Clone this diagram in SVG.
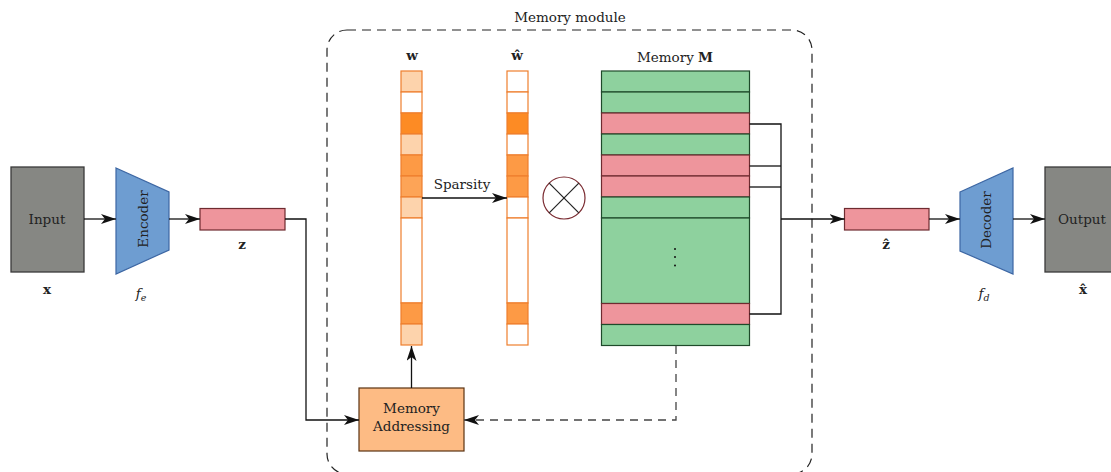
<svg xmlns="http://www.w3.org/2000/svg" width="1111" height="472" viewBox="0 0 1111 472">
<style>
text{font-family:"DejaVu Serif","Liberation Serif",serif;fill:#222;}
.lbl{font-size:13.5px;text-anchor:middle;}
.b{font-weight:bold;}
.it{font-style:italic;}
.gray{fill:#868783;stroke:#3a3a3a;stroke-width:1.3;}
.blue{fill:#6E9DD1;stroke:#3C66A3;stroke-width:1.2;}
.pink{fill:#EE959C;stroke:#6E2B30;stroke-width:1.2;}
.green{fill:#8ED19E;stroke:#1E4A2A;stroke-width:1.2;}
.cell{stroke:#EE7F2D;stroke-width:1.2;}
.wh{fill:#ffffff;}
.lt{fill:#FDD3AC;}
.dk{fill:#FD8B24;}
.md{fill:#FD9A45;}
.ml{fill:#FDA457;}
.conn{fill:none;stroke:#111;stroke-width:1.3;}
.dash{fill:none;stroke:#444;stroke-width:1.3;stroke-dasharray:8,6;}
</style>
<defs>
<marker id="ah" markerUnits="userSpaceOnUse" markerWidth="16" markerHeight="12" refX="15" refY="5" orient="auto">
<path d="M0,0 L15,5 L0,10 L4,5 z" fill="#111"/>
</marker>
</defs>

<!-- memory module frame -->
<g id="memory-module">
<rect x="327" y="30" width="485" height="444" rx="20" ry="20" fill="none" stroke="#222" stroke-width="1.2" stroke-dasharray="9,6"/>
<text class="lbl" x="570" y="22">Memory module</text>
</g>

<g id="input">
<rect class="gray" x="11" y="167" width="73" height="105"/>
<text class="lbl" x="47" y="224">Input</text>
<text class="lbl b" x="47" y="294">x</text>
</g>

<g id="encoder">
<polygon class="blue" points="116,168 169,192 169,250 116,274"/>
<text class="lbl" transform="translate(148,219) rotate(-90)">Encoder</text>
<text class="lbl it" x="141" y="298">f<tspan font-size="9.5" dy="3">e</tspan></text>
</g>

<g id="z">
<rect class="pink" x="200" y="208.5" width="85" height="21.5"/>
<text class="lbl b" x="242" y="249">z</text>
</g>

<g id="w">
<text class="lbl b" x="412" y="60">w</text>
<rect class="cell lt" x="401" y="71" width="21" height="21"/>
<rect class="cell wh" x="401" y="92" width="21" height="21"/>
<rect class="cell dk" x="401" y="113" width="21" height="21"/>
<rect class="cell lt" x="401" y="134" width="21" height="21"/>
<rect class="cell md" x="401" y="155" width="21" height="21"/>
<rect class="cell ml" x="401" y="176" width="21" height="21"/>
<rect class="cell lt" x="401" y="197" width="21" height="21"/>
<rect class="cell wh" x="401" y="218" width="21" height="85"/>
<rect class="cell md" x="401" y="303" width="21" height="21"/>
<rect class="cell lt" x="401" y="324" width="21" height="21"/>
</g>

<g id="w-hat">
<text class="lbl b" x="517" y="60">ŵ</text>
<rect class="cell wh" x="507" y="71" width="21" height="21"/>
<rect class="cell wh" x="507" y="92" width="21" height="21"/>
<rect class="cell dk" x="507" y="113" width="21" height="21"/>
<rect class="cell wh" x="507" y="134" width="21" height="21"/>
<rect class="cell md" x="507" y="155" width="21" height="21"/>
<rect class="cell md" x="507" y="176" width="21" height="21"/>
<rect class="cell wh" x="507" y="197" width="21" height="21"/>
<rect class="cell wh" x="507" y="218" width="21" height="85"/>
<rect class="cell md" x="507" y="303" width="21" height="21"/>
<rect class="cell wh" x="507" y="324" width="21" height="21"/>
</g>

<g id="product">
<circle cx="564" cy="198" r="21" fill="#fff" stroke="#7A2A30" stroke-width="1.2"/>
<line x1="549.2" y1="183.2" x2="578.8" y2="212.8" stroke="#222" stroke-width="1.2"/>
<line x1="578.8" y1="183.2" x2="549.2" y2="212.8" stroke="#222" stroke-width="1.2"/>
</g>

<g id="memory">
<text class="lbl" x="675" y="62">Memory <tspan class="b">M</tspan></text>
<rect class="green" x="601.5" y="71" width="148" height="21"/>
<rect class="green" x="601.5" y="92" width="148" height="21"/>
<rect class="pink" x="601.5" y="113" width="148" height="21"/>
<rect class="green" x="601.5" y="134" width="148" height="21"/>
<rect class="pink" x="601.5" y="155" width="148" height="21"/>
<rect class="pink" x="601.5" y="176" width="148" height="21"/>
<rect class="green" x="601.5" y="197" width="148" height="21"/>
<rect class="green" x="601.5" y="218" width="148" height="85.5"/>
<rect class="pink" x="601.5" y="303.5" width="148" height="21"/>
<rect class="green" x="601.5" y="324.5" width="148" height="21"/>
<circle cx="675" cy="249" r="1" fill="#111"/>
<circle cx="675" cy="257" r="1" fill="#111"/>
<circle cx="675" cy="265.5" r="1" fill="#111"/>
</g>

<g id="memory-addressing">
<rect x="359" y="388" width="105" height="63" fill="#FDBB84" stroke="#5A3212" stroke-width="1.2"/>
<text class="lbl" x="411.5" y="413">Memory</text>
<text class="lbl" x="411.5" y="431">Addressing</text>
</g>

<g id="z-hat">
<rect class="pink" x="844.5" y="208.5" width="84.5" height="21.5"/>
<text class="lbl b" x="886" y="249">ẑ</text>
</g>

<g id="decoder">
<polygon class="blue" points="960,192 1013,168 1013,274 960,251"/>
<text class="lbl" transform="translate(991,220) rotate(-90)">Decoder</text>
<text class="lbl it" x="984" y="298">f<tspan font-size="9.5" dy="3">d</tspan></text>
</g>

<g id="output">
<rect class="gray" x="1045" y="167" width="74" height="105"/>
<text class="lbl" x="1082" y="224">Output</text>
<text class="lbl b" x="1083" y="294">x̂</text>
</g>

<g id="connectors">
<line class="conn" x1="84" y1="219" x2="116" y2="219" marker-end="url(#ah)"/>
<line class="conn" x1="169" y1="219" x2="200" y2="219" marker-end="url(#ah)"/>
<polyline class="conn" points="285,219 306,219 306,420 359,420" marker-end="url(#ah)"/>
<line class="conn" x1="411.5" y1="388" x2="411.5" y2="346" marker-end="url(#ah)"/>
<line class="conn" x1="422" y1="198" x2="507" y2="198" marker-end="url(#ah)"/>
<text class="lbl" x="462" y="189">Sparsity</text>
<polyline class="dash" points="676,346 676,420 464,420" marker-end="url(#ah)"/>
<polyline class="conn" points="749.5,124 781,124 781,314 749.5,314"/>
<line class="conn" x1="749.5" y1="166" x2="781" y2="166"/>
<line class="conn" x1="749.5" y1="187" x2="781" y2="187"/>
<line class="conn" x1="781" y1="219" x2="844.5" y2="219" marker-end="url(#ah)"/>
<line class="conn" x1="929" y1="219" x2="960" y2="219" marker-end="url(#ah)"/>
<line class="conn" x1="1013" y1="219" x2="1045" y2="219" marker-end="url(#ah)"/>
</g>
</svg>
